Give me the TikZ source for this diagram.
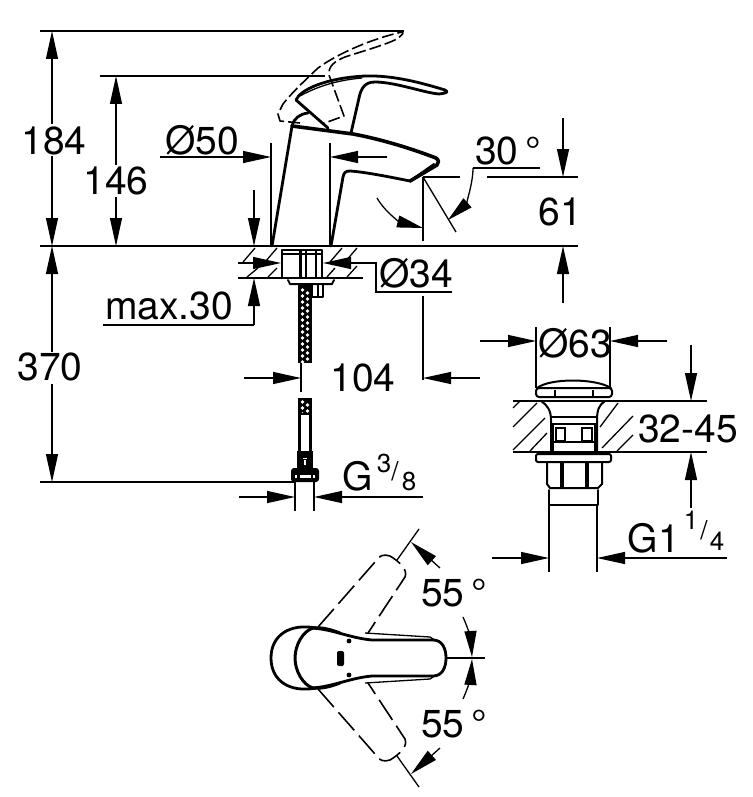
\documentclass[tikz,border=0pt]{standalone}
\usepackage{fontspec}
\setmainfont{TeX Gyre Heros}
\usetikzlibrary{arrows.meta}
\tikzset{
  thin line/.style={line width=1.3pt,line cap=butt},
  thick line/.style={line width=2.8pt,line join=round,line cap=round},
  med line/.style={line width=2pt,line join=round,line cap=round},
  dash line/.style={line width=1.6pt,dash pattern=on 12pt off 4pt,line join=round},
  dim/.style={line width=1.3pt,-{Triangle[length=28pt,width=12pt]}},
  dimb/.style={line width=1.3pt,{Triangle[length=28pt,width=12pt]}-},
  lab/.style={font=\fontsize{39}{39}\selectfont,inner sep=0pt,anchor=center},
  sup/.style={font=\fontsize{26}{26}\selectfont,inner sep=0pt,anchor=center},
  hatch/.style={line width=1.3pt}
}
\begin{document}
\begin{tikzpicture}[x=1pt,y=-1pt]
\useasboundingbox (0,0) rectangle (752,797);
\fill[white] (0,0) rectangle (752,797);
% ---- extension lines
\draw[thin line] (40,31) -- (404,31);
\draw[thin line] (100,76) -- (325,76);
\draw[thin line] (40,246) -- (578,246);
\draw[thin line] (238,278) -- (363,278);
\draw[thin line] (40,482) -- (296,482);
% ---- faucet body
\draw[thick line] (272,246) -- (292,126) .. controls (294,118) and (300,114) .. (308,113);
\draw[line width=3.6pt,line join=round,line cap=round] (292,126) -- (353,134) .. controls (385,140) and (415,150) .. (436,158)
  .. controls (439,160) and (439,163) .. (437,165) -- (410,181);
\draw[thick line] (410,181) .. controls (390,177) and (365,172) .. (350,171) .. controls (345,171) and (344,173) .. (343,177) -- (331,246);
\draw[med line] (414,178) -- (434,164);
\draw[thin line] (410,182) -- (432,168);
% ---- lever
\draw[thick line] (328,128) -- (296,100) .. controls (300,90) and (325,78) .. (365,76)
  .. controls (395,75) and (425,84) .. (445,90) .. controls (449,92) and (447,93) .. (439,94)
  .. controls (425,93) and (395,82) .. (375,82) .. controls (365,82) and (361,88) .. (359,98) -- (351,133);
\draw[thin line] (300,96) .. controls (320,85) and (340,80) .. (362,78);
% ---- dashed raised lever
\draw[dash line] (300,123) -- (280,121) -- (278,114) -- (283,104) .. controls (290,95) and (300,85) .. (318,68)
  .. controls (340,52) and (375,38) .. (402,32) .. controls (404,33) and (403,34) .. (397,39)
  .. controls (385,45) and (360,52) .. (345,57) .. controls (335,61) and (328,66) .. (329,75) -- (344,116) -- (322,124);
% ---- spout dimensions
\draw[thin line] (423,177) -- (423,241);
\draw[thin line] (423,177) -- (460,177);
\draw[thin line] (487,177) -- (578,177);
\draw[thin line] (423,177) -- (456,232);
\draw[thin line] (473,168) -- (540,168);
\draw[line width=1.3pt,-{Triangle[length=26pt,width=12pt]}] (473,168) .. controls (473,185) and (465,205) .. (448,220);
\draw[line width=1.3pt,-{Triangle[length=26pt,width=12pt]}] (377,198) .. controls (385,212) and (400,222) .. (423,228);
\node[lab] (t30) at (508,151) {30\,°};
\draw[dim] (563,118) -- (563,177);
\node[lab] (t61) at (560,212) {61};
\draw[dim] (563,303) -- (563,246);
% ---- height dimensions
\draw[dimb] (52,31) -- (52,124);
\node[lab] (t184) at (54,141) {184};
\draw[dim] (52,156) -- (52,246);
\draw[dimb] (116,76) -- (116,165);
\node[lab] (t146) at (116,181) {146};
\draw[dim] (116,197) -- (116,246);
\draw[dimb] (52,246) -- (52,352);
\node[lab] (t370) at (50,367) {370};
\draw[dim] (52,384) -- (52,482);
% ---- diam 50
\draw[thin line] (271,143) -- (271,246);
\draw[thin line] (330,143) -- (330,246);
\draw[dim] (160,157) -- (271,157);
\node[lab] (t50) at (202,140) {Ø50};
\draw[dim] (387,157) -- (330,157);
% ---- max 30
\draw[dim] (254,190) -- (254,246);
\draw[dim] (254,325) -- (254,278);
\draw[thin line] (254,325) -- (103,325);
\node[lab] (tmax) at (169,306) {max.30};
% ---- sink hatching
\foreach \a/\b/\c/\d in {243/262/255/248,265/262/277/248,247/277/258/268,268/277/277/268,330/262/342/248,345/262/357/248,327/277/335/268,347/277/357/266}
  \draw[hatch] (\a,\b) -- (\c,\d);
% ---- diam 34
\draw[dim] (238,263) -- (281,263);
\draw[dim] (376,263) -- (323,263);
\draw[thin line] (349,263) -- (376,263) -- (376,292) -- (452,292);
\node[lab] (t34) at (416,273) {Ø34};
% ---- tailpiece
\draw[med line] (282,278) -- (282,250) -- (322,250) -- (322,278);
\draw[thin line] (282,254) -- (322,254);
\draw[line width=3pt] (300,250) -- (300,278);
\draw[line width=2.6pt] (316,250) -- (316,278);
\draw[thin line] (306,250) -- (306,278);
\draw[med line] (288,280) -- (290,284) -- (332,284) -- (334,280);
\draw[med line] (312,285) -- (312,297) -- (323,297) -- (323,285);
\draw[thin line] (318,285) -- (318,297);
% ---- hose
\fill (298,285) rectangle (312,363);
\foreach \i in {0,...,12} {
  \fill[white] (302.5,{290+6*\i}) ++(-1.9,0) -- ++(1.9,-1.9) -- ++(1.9,1.9) -- ++(-1.9,1.9) -- cycle;
  \fill[white] (307.5,{293+6*\i}) ++(-1.9,0) -- ++(1.9,-1.9) -- ++(1.9,1.9) -- ++(-1.9,1.9) -- cycle;
}
\fill (298,398) rectangle (312,415);
\foreach \i in {0,1,2} {
  \fill[white] (302.5,{402+6*\i}) ++(-1.9,0) -- ++(1.9,-1.9) -- ++(1.9,1.9) -- ++(-1.9,1.9) -- cycle;
  \fill[white] (307.5,{405+6*\i}) ++(-1.9,0) -- ++(1.9,-1.9) -- ++(1.9,1.9) -- ++(-1.9,1.9) -- cycle;
}
\draw[line width=3pt] (299.5,415) -- (299.5,452);
\draw[line width=3pt] (310.5,415) -- (310.5,452);
\draw[thin line] (298,414) -- (312,414);
\fill (297,451) rectangle (313,468);
\fill[white] (303,458) rectangle (307,466);
\draw[line width=1pt] (303.5,459) rectangle (306.5,465);
\fill[rounded corners=3pt] (291,468) rectangle (319,482);
\fill[white] (295,475) rectangle (297,478);
\fill[white] (300,475) rectangle (311,478);
\fill[white] (313,475) rectangle (315,478);
\draw[thin line] (295,482) -- (295,511);
\draw[thin line] (314,482) -- (314,511);
% ---- 104
\draw[thin line] (301,363) -- (301,392);
\draw[dim] (244,378) -- (301,378);
\node[lab] (t104) at (363,378) {104};
\draw[thin line] (423,296) -- (423,380);
\draw[dim] (480,378) -- (423,378);
% ---- G 3/8
\draw[dim] (239,497) -- (295,497);
\draw[dim] (423,497) -- (314,497);
\node[lab] (tg) at (358,476) {G};
\node[sup] (tg3) at (384,463) {3};
\node[sup] (tgs) at (395,471) {/};
\node[sup] (tg8) at (409,481) {8};
% ---- pop-up waste
\draw[thin line] (536,327) -- (536,388);
\draw[thin line] (610,327) -- (610,388);
\draw[dim] (480,341) -- (536,341);
\draw[dim] (667,341) -- (610,341);
\node[lab] (t63) at (575,343) {Ø63};
\draw[med line] (537,388) .. controls (550,378) and (595,378) .. (611,388);
\draw[med line,rounded corners=3pt] (536,388) rectangle (612,397);
\draw[thin line] (555,390) -- (555,397);
\draw[thin line] (593,390) -- (593,397);
\draw[line width=2.8pt] (513,401) -- (633,401);
\draw[line width=2.8pt] (513,452) -- (633,452);
\draw[thin line] (633,401) -- (707,401);
\draw[thin line] (633,452) -- (707,452);
\foreach \a/\b/\c/\d in {513/408/520/401,513/427/537/403,513/450/545/418,530/451/547/433,600/427/618/403,602/448/633/416,617/451/633/435}
  \draw[hatch] (\a,\b) -- (\c,\d);
\draw[med line] (541,401) .. controls (547,405) and (551,410) .. (551,420) -- (551,452);
\draw[med line] (605,401) .. controls (599,405) and (597,410) .. (597,420) -- (597,452);
\draw[line width=3.4pt] (552,423) -- (552,452);
\draw[line width=3.4pt] (596,423) -- (596,452);
\draw[thin line] (551,417) -- (597,417);
\draw[med line] (552,424) -- (596,424);
\draw[med line] (552,442) -- (596,442);
\draw[thin line] (556,428) rectangle (565,441);
\draw[thin line] (582,428) rectangle (592,441);
\draw[med line,rounded corners=2pt] (536,454) rectangle (611,462);
\draw[med line] (547,463) -- (547,484) -- (550,488) -- (598,488) -- (602,484) -- (602,463);
\draw[line width=3.4pt] (562,463) -- (562,488);
\draw[line width=3.4pt] (587,463) -- (587,488);
\draw[med line] (549,490) -- (549,505) -- (598,505) -- (598,490);
\draw[thin line] (549,505) -- (549,572);
\draw[thin line] (597,505) -- (597,572);
\draw[dim] (691,345) -- (691,401);
\draw[dim] (691,508) -- (691,452);
\node[lab] (t3245) at (688,429) {32-45};
\draw[dim] (492,558) -- (549,558);
\draw[dim] (727,558) -- (597,558);
\node[lab] (tg1) at (654,538) {G1};
\node[sup] (tg1a) at (691,520) {1};
\node[sup] (tg1s) at (704,530) {/};
\node[sup] (tg1b) at (717,541) {4};
% ---- top view
\draw[thick line] (316,628) .. controls (290,623) and (271,635) .. (271,658) .. controls (271,681) and (290,693) .. (316,688);
\draw[line width=3pt,line join=round] (340,633) .. controls (330,629) and (320,627) .. (313,628)
  .. controls (303,631) and (295,645) .. (295,658) .. controls (295,671) and (303,685) .. (313,688)
  .. controls (320,689) and (330,687) .. (340,683);
\draw[thick line] (313,628) .. controls (335,630) and (350,638) .. (372,640) -- (433,640) .. controls (442,640) and (446,648) .. (446,658)
  .. controls (446,668) and (442,676) .. (433,676) -- (372,676) .. controls (350,678) and (335,686) .. (313,688);
\draw[thin line] (365,633) -- (430,637) -- (436,641);
\draw[thin line] (365,683) -- (430,679) -- (436,675);
\fill (349,641) circle (2.4);
\fill (349,675) circle (2.4);
\fill[rounded corners=2pt] (337,651) rectangle (344,666);
\draw[thin line] (446,658) -- (485,658);
\draw[dash line,dash pattern=on 24pt off 7pt] (318,627) -- (375,562) .. controls (379,555) and (384,554) .. (390,556) .. controls (400,562) and (408,570) .. (405,577) -- (368,633);
\draw[dash line,dash pattern=on 24pt off 7pt] (318,689) -- (375,754) .. controls (379,761) and (384,762) .. (390,760) .. controls (400,754) and (408,746) .. (405,739) -- (368,683);
\draw[thin line] (397,560) -- (419,529);
\draw[thin line] (397,756) -- (419,787);
\draw[dim] (440,568) -- (411,542);
\draw[dim] (440,748) -- (411,774);
\draw[line width=1.3pt,-{Triangle[length=26pt,width=12pt]}] (463,617) .. controls (468,628) and (471,640) .. (472,657);
\draw[line width=1.3pt,-{Triangle[length=26pt,width=12pt]}] (463,699) .. controls (468,688) and (471,676) .. (472,659);
\node[lab] (t55a) at (454,593) {55\,°};
\node[lab] (t55b) at (454,724) {55\,°};
\end{tikzpicture}
\end{document}
